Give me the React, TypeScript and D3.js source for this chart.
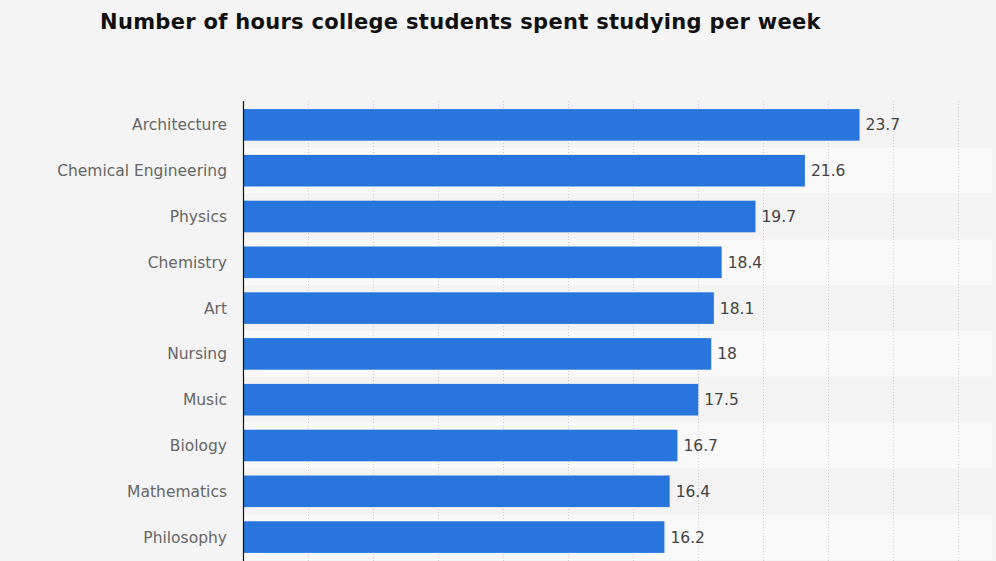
import React from "react";
import * as d3 from "d3";

const title = "Number of hours college students spent studying per week";
const categories = [
  "Architecture",
  "Chemical Engineering",
  "Physics",
  "Chemistry",
  "Art",
  "Nursing",
  "Music",
  "Biology",
  "Mathematics",
  "Philosophy",
];
const hours = [23.7, 21.6, 19.7, 18.4, 18.1, 18, 17.5, 16.7, 16.4, 16.2];
const gridTicks = [2.5, 5, 7.5, 10, 12.5, 15, 17.5, 20, 22.5, 25, 27.5];

const W = 996;
const H = 561;
const plot = { left: 243, right: 961, top: 102, bottom: 560 };

export default function App() {
  const x = d3.scaleLinear().domain([0, 27.6]).range([plot.left, plot.right]);
  const y = d3
    .scaleBand<string>()
    .domain(categories)
    .range([plot.top, plot.bottom])
    .paddingInner(0.31)
    .paddingOuter(0.155);
  const step = y.step();
  const font = "'DejaVu Sans', sans-serif";

  return (
    <svg
      width={W}
      height={H}
      style={{ position: "absolute", left: 0, top: 0, display: "block" }}
    >
      <rect width={W} height={H} fill="#f4f4f4" />
      {categories.map((c, i) => (
        <rect
          key={"band" + c}
          x={plot.left}
          y={(y(c) as number) - (step - y.bandwidth()) / 2}
          width={992 - plot.left}
          height={step}
          fill={i % 2 === 0 ? "#f3f3f3" : "#f9f9fa"}
        />
      ))}
      {gridTicks.map((t) => (
        <line
          key={"g" + t}
          x1={Math.round(x(t)) + 0.5}
          x2={Math.round(x(t)) + 0.5}
          y1={plot.top - 1}
          y2={H}
          stroke="#cfcfcf"
          strokeWidth={1}
          strokeDasharray="1,2"
        />
      ))}
      <text
        x={100}
        y={29}
        fontFamily={font}
        fontWeight="bold"
        fontSize={21}
        letterSpacing={0.3}
        fill="#111"
      >
        {title}
      </text>
      {categories.map((c, i) => {
        const yy = y(c) as number;
        const cy = yy + y.bandwidth() / 2;
        return (
          <g key={c}>
            <rect
              x={plot.left}
              y={yy}
              width={x(hours[i]) - plot.left}
              height={y.bandwidth()}
              fill="#2876dd"
            />
            <text
              x={227}
              y={cy}
              dy="0.35em"
              textAnchor="end"
              fontFamily={font}
              fontSize={15.5}
              fill="#666"
            >
              {c}
            </text>
            <text
              x={x(hours[i]) + 6}
              y={cy}
              dy="0.35em"
              fontFamily={font}
              fontSize={15.5}
              fill="#444"
            >
              {String(hours[i])}
            </text>
          </g>
        );
      })}
      <line
        x1={plot.left + 0.5}
        x2={plot.left + 0.5}
        y1={plot.top - 1}
        y2={H}
        stroke="#111"
        strokeWidth={1.2}
      />
    </svg>
  );
}
